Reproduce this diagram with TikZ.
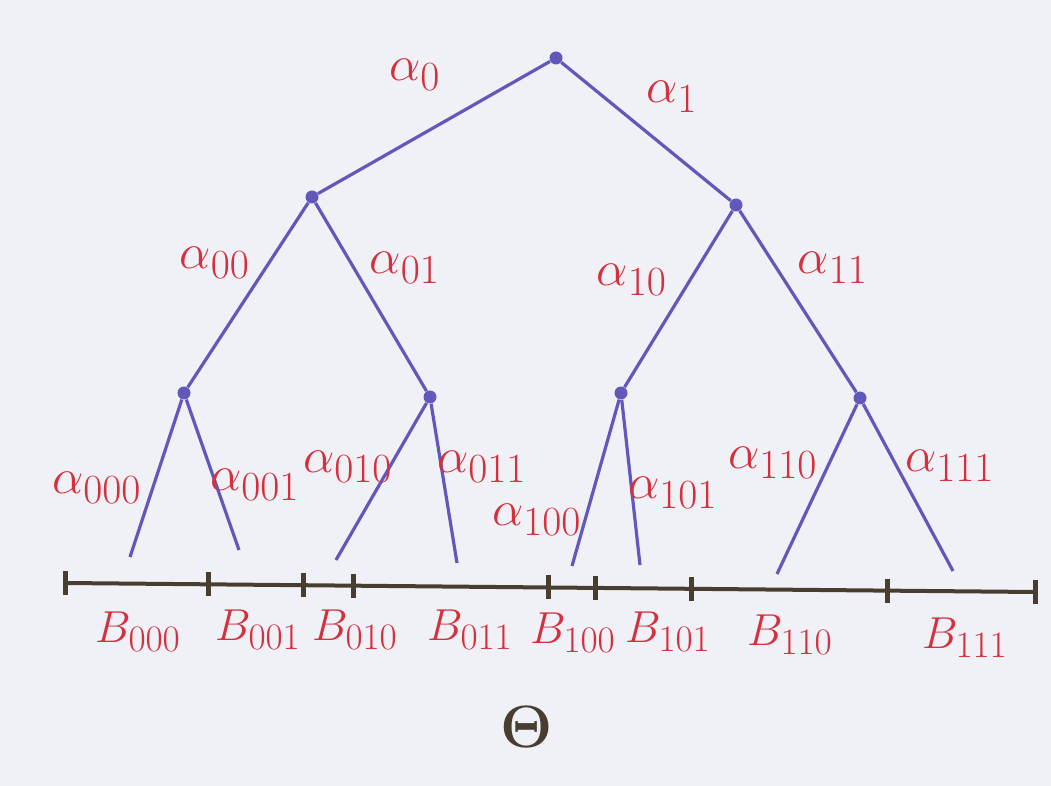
\documentclass[tikz,border=0pt]{standalone}
\definecolor{paper}{RGB}{240,241,246}
\definecolor{branch}{RGB}{98,88,188}
\definecolor{ink}{RGB}{212,48,62}
\definecolor{axis}{RGB}{72,62,48}
\tikzset{
    dot/.style={circle, fill=branch, inner sep=0pt, minimum size=6.5pt},
    lbl/.style={text=ink, font=\Huge},
    intlbl/.style={text=ink, font=\Huge, scale=0.9},
    edge/.style={branch, line width=1.6pt},
    tick/.style={axis, line width=2.5pt},
}
\begin{document}
\begin{tikzpicture}[x=0.5pt, y=-0.5pt]
    \fill[paper] (0,0) rectangle (1051,786);
    \useasboundingbox (0,0) rectangle (1051,786);
    % tree nodes
    \node[dot] (r) at (556,58) {};
    \node[dot] (n0) at (312,197) {};
    \node[dot] (n1) at (736,205) {};
    \node[dot] (n00) at (184,393) {};
    \node[dot] (n01) at (430,397) {};
    \node[dot] (n10) at (621,393) {};
    \node[dot] (n11) at (860,398) {};
    % leaf ends
    \coordinate (l000) at (130,557);
    \coordinate (l001) at (239,550);
    \coordinate (l010) at (336,560);
    \coordinate (l011) at (457,563);
    \coordinate (l100) at (572,566);
    \coordinate (l101) at (640,565);
    \coordinate (l110) at (777,574);
    \coordinate (l111) at (953,571);
    % branches
    \draw[edge] (r) -- (n0);
    \draw[edge] (r) -- (n1);
    \draw[edge] (n0) -- (n00);
    \draw[edge] (n0) -- (n01);
    \draw[edge] (n1) -- (n10);
    \draw[edge] (n1) -- (n11);
    \draw[edge] (n00) -- (l000);
    \draw[edge] (n00) -- (l001);
    \draw[edge] (n01) -- (l010);
    \draw[edge] (n01) -- (l011);
    \draw[edge] (n10) -- (l100);
    \draw[edge] (n10) -- (l101);
    \draw[edge] (n11) -- (l110);
    \draw[edge] (n11) -- (l111);
    % branch labels
    \node[lbl] (a0) at (415,75) {$\alpha_{0}$};
    \node[lbl] (a1) at (672,97) {$\alpha_{1}$};
    \node[lbl] (a00) at (215,263) {$\alpha_{00}$};
    \node[lbl] (a01) at (405,268) {$\alpha_{01}$};
    \node[lbl] (a10) at (632,280) {$\alpha_{10}$};
    \node[lbl] (a11) at (833,268) {$\alpha_{11}$};
    \node[lbl] (a000) at (97,488) {$\alpha_{000}$};
    \node[lbl] (a001) at (255,485) {$\alpha_{001}$};
    \node[lbl] (a010) at (348,467) {$\alpha_{010}$};
    \node[lbl] (a011) at (482,467) {$\alpha_{011}$};
    \node[lbl] (a100) at (537,520) {$\alpha_{100}$};
    \node[lbl] (a101) at (673,493) {$\alpha_{101}$};
    \node[lbl] (a110) at (773,463) {$\alpha_{110}$};
    \node[lbl] (a111) at (950,466) {$\alpha_{111}$};
    % axis with ticks
    \coordinate (t0) at (65,583);
    \coordinate (t1) at (208,584.3);
    \coordinate (t2) at (303,585.2);
    \coordinate (t3) at (353,585.7);
    \coordinate (t4) at (548,587.5);
    \coordinate (t5) at (595,587.9);
    \coordinate (t6) at (691,588.8);
    \coordinate (t7) at (887,590.7);
    \coordinate (t8) at (1035,592);
    \draw[axis, line width=2pt] (t0) -- (t8);
    \foreach \t in {t0,t1,t2,t3,t4,t5,t6,t7,t8}
        \draw[tick] ([yshift=6pt]\t) -- ([yshift=-6pt]\t);
    % interval labels
    \node[intlbl] (b000) at (138,632) {$B_{000}$};
    \node[intlbl] (b001) at (258,630) {$B_{001}$};
    \node[intlbl] (b010) at (355,630) {$B_{010}$};
    \node[intlbl] (b011) at (470,630) {$B_{011}$};
    \node[intlbl] (b100) at (573,633) {$B_{100}$};
    \node[intlbl] (b101) at (668,632) {$B_{101}$};
    \node[intlbl] (b110) at (790,635) {$B_{110}$};
    \node[intlbl] (b111) at (965,638) {$B_{111}$};
    % parameter space
    \node[text=axis, font=\Huge\boldmath, scale=1.2] (th) at (527,727) {$\Theta$};
\end{tikzpicture}
\end{document}
